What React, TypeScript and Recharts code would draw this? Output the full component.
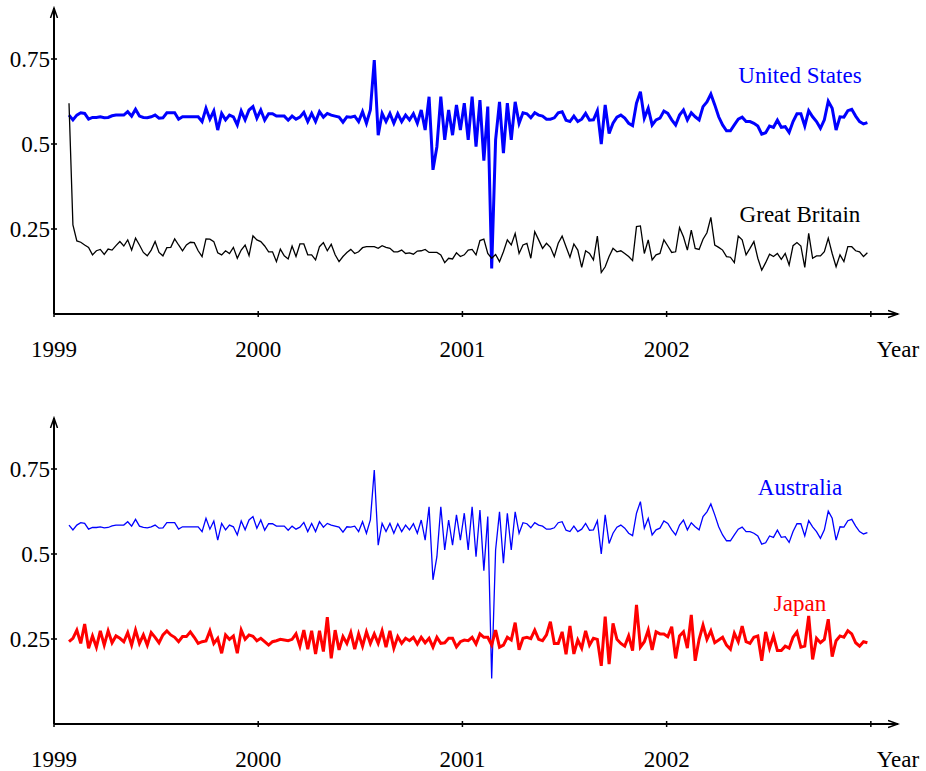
import { LineChart, Line, XAxis, YAxis, ReferenceDot } from 'recharts'

const FONT = '"Liberation Serif", "DejaVu Serif", serif'

// weekly observations, first one at the end of January 1999
const firstWeek = 1999.0735
const weekStep = 7 / 365.25
const yearTicks = [1999, 2000, 2001, 2002, 2003]
const valueTicks = [0.25, 0.5, 0.75]

const unitedStates = [
  0.585, 0.571, 0.585, 0.592, 0.590, 0.573, 0.578, 0.578, 0.580, 0.577,
  0.578, 0.583, 0.585, 0.585, 0.585, 0.595, 0.582, 0.602, 0.582, 0.578,
  0.577, 0.580, 0.585, 0.576, 0.577, 0.592, 0.592, 0.592, 0.573, 0.580,
  0.580, 0.580, 0.580, 0.580, 0.566, 0.605, 0.573, 0.597, 0.541, 0.590,
  0.571, 0.585, 0.580, 0.556, 0.597, 0.571, 0.600, 0.610, 0.576, 0.600,
  0.570, 0.589, 0.589, 0.582, 0.582, 0.582, 0.570, 0.582, 0.573, 0.579,
  0.593, 0.566, 0.590, 0.566, 0.595, 0.579, 0.590, 0.585, 0.582, 0.579,
  0.564, 0.580, 0.579, 0.582, 0.566, 0.595, 0.561, 0.600, 0.747, 0.526,
  0.590, 0.566, 0.590, 0.561, 0.589, 0.566, 0.585, 0.571, 0.589, 0.561,
  0.600, 0.541, 0.639, 0.424, 0.492, 0.639, 0.512, 0.600, 0.526, 0.615,
  0.541, 0.620, 0.512, 0.639, 0.492, 0.629, 0.451, 0.610, 0.134, 0.512,
  0.624, 0.473, 0.620, 0.512, 0.624, 0.561, 0.592, 0.589, 0.577, 0.592,
  0.585, 0.582, 0.573, 0.573, 0.577, 0.592, 0.595, 0.570, 0.566, 0.582,
  0.566, 0.573, 0.590, 0.570, 0.571, 0.598, 0.500, 0.615, 0.531, 0.561,
  0.579, 0.585, 0.576, 0.561, 0.554, 0.620, 0.654, 0.576, 0.605, 0.556,
  0.571, 0.576, 0.597, 0.590, 0.571, 0.556, 0.585, 0.600, 0.571, 0.592,
  0.580, 0.571, 0.610, 0.624, 0.647, 0.615, 0.580, 0.556, 0.539, 0.539,
  0.556, 0.573, 0.579, 0.566, 0.566, 0.561, 0.553, 0.529, 0.533, 0.553,
  0.549, 0.570, 0.549, 0.551, 0.534, 0.566, 0.589, 0.589, 0.553, 0.598,
  0.580, 0.566, 0.546, 0.571, 0.626, 0.605, 0.541, 0.580, 0.579, 0.598,
  0.602, 0.582, 0.566, 0.559, 0.563,
]

const greatBritain = [
  0.620, 0.262, 0.215, 0.211, 0.203, 0.196, 0.174, 0.186, 0.190, 0.175,
  0.191, 0.188, 0.201, 0.213, 0.200, 0.218, 0.188, 0.223, 0.203, 0.181,
  0.171, 0.188, 0.213, 0.181, 0.171, 0.195, 0.196, 0.221, 0.203, 0.186,
  0.203, 0.211, 0.210, 0.186, 0.169, 0.221, 0.220, 0.213, 0.180, 0.174,
  0.186, 0.178, 0.196, 0.164, 0.188, 0.203, 0.172, 0.230, 0.218, 0.213,
  0.200, 0.183, 0.183, 0.154, 0.191, 0.171, 0.162, 0.200, 0.169, 0.206,
  0.206, 0.174, 0.174, 0.159, 0.198, 0.210, 0.186, 0.205, 0.174, 0.154,
  0.169, 0.181, 0.190, 0.178, 0.183, 0.195, 0.198, 0.198, 0.198, 0.193,
  0.201, 0.196, 0.193, 0.183, 0.183, 0.188, 0.178, 0.180, 0.176, 0.185,
  0.186, 0.190, 0.181, 0.181, 0.181, 0.174, 0.151, 0.164, 0.162, 0.180,
  0.169, 0.174, 0.188, 0.190, 0.174, 0.216, 0.220, 0.178, 0.164, 0.175,
  0.154, 0.183, 0.218, 0.203, 0.237, 0.178, 0.203, 0.208, 0.164, 0.242,
  0.218, 0.193, 0.208, 0.196, 0.169, 0.208, 0.229, 0.198, 0.167, 0.206,
  0.188, 0.137, 0.186, 0.178, 0.159, 0.229, 0.122, 0.139, 0.169, 0.193,
  0.183, 0.186, 0.178, 0.169, 0.157, 0.257, 0.259, 0.178, 0.218, 0.159,
  0.174, 0.178, 0.218, 0.200, 0.181, 0.183, 0.254, 0.227, 0.188, 0.247,
  0.193, 0.190, 0.220, 0.239, 0.284, 0.203, 0.196, 0.188, 0.169, 0.167,
  0.151, 0.229, 0.218, 0.174, 0.193, 0.213, 0.164, 0.129, 0.151, 0.176,
  0.169, 0.178, 0.161, 0.178, 0.144, 0.201, 0.210, 0.200, 0.137, 0.237,
  0.164, 0.171, 0.171, 0.183, 0.223, 0.178, 0.139, 0.174, 0.154, 0.198,
  0.198, 0.186, 0.183, 0.169, 0.180,
]

// the lower panel plots the very same values for Australia
const australia = unitedStates

const japan = [
  0.242, 0.252, 0.276, 0.237, 0.294, 0.223, 0.259, 0.226, 0.274, 0.232,
  0.274, 0.239, 0.259, 0.252, 0.242, 0.269, 0.232, 0.276, 0.237, 0.262,
  0.232, 0.269, 0.255, 0.239, 0.262, 0.274, 0.262, 0.255, 0.242, 0.257,
  0.257, 0.271, 0.255, 0.237, 0.242, 0.244, 0.274, 0.237, 0.252, 0.208,
  0.262, 0.249, 0.259, 0.208, 0.276, 0.249, 0.262, 0.258, 0.245, 0.252,
  0.242, 0.232, 0.242, 0.245, 0.249, 0.247, 0.245, 0.249, 0.265, 0.229,
  0.276, 0.220, 0.274, 0.206, 0.274, 0.213, 0.314, 0.193, 0.276, 0.218,
  0.257, 0.237, 0.269, 0.220, 0.265, 0.229, 0.271, 0.237, 0.265, 0.237,
  0.274, 0.226, 0.274, 0.223, 0.257, 0.237, 0.252, 0.245, 0.255, 0.235,
  0.255, 0.239, 0.252, 0.226, 0.255, 0.237, 0.239, 0.252, 0.252, 0.227,
  0.242, 0.247, 0.245, 0.255, 0.235, 0.265, 0.255, 0.255, 0.232, 0.276,
  0.226, 0.232, 0.255, 0.247, 0.298, 0.218, 0.252, 0.255, 0.251, 0.276,
  0.249, 0.245, 0.262, 0.301, 0.237, 0.237, 0.271, 0.205, 0.288, 0.206,
  0.247, 0.223, 0.274, 0.232, 0.252, 0.249, 0.171, 0.316, 0.176, 0.296,
  0.249, 0.237, 0.229, 0.259, 0.216, 0.350, 0.226, 0.242, 0.276, 0.218,
  0.271, 0.265, 0.265, 0.257, 0.286, 0.193, 0.259, 0.271, 0.223, 0.321,
  0.186, 0.249, 0.291, 0.249, 0.274, 0.239, 0.247, 0.255, 0.232, 0.220,
  0.267, 0.242, 0.288, 0.242, 0.237, 0.255, 0.259, 0.186, 0.271, 0.223,
  0.259, 0.216, 0.216, 0.229, 0.223, 0.255, 0.271, 0.226, 0.229, 0.318,
  0.190, 0.252, 0.239, 0.249, 0.308, 0.198, 0.245, 0.259, 0.255, 0.274,
  0.265, 0.239, 0.229, 0.242, 0.239,
]

const topData = unitedStates.map((v, i) => ({
  t: firstWeek + i * weekStep,
  us: v,
  gb: greatBritain[i],
}))

const bottomData = australia.map((v, i) => ({
  t: firstWeek + i * weekStep,
  au: v,
  jp: japan[i],
}))

type Series = { key: string; color: string; width: number }
type Note = { text: string; color: string; x: number; y: number }

const YearLabel = (props: any) => {
  const { x, y, width } = props.viewBox
  return (
    <text x={x + width} y={y + 43} textAnchor="middle" fill="#000" fontSize={23} fontFamily={FONT}>
      Year
    </text>
  )
}

function Panel({ data, height, top, axisHeight, series, notes }: {
  data: any[]
  height: number
  top: number
  axisHeight: number
  series: Series[]
  notes: Note[]
}) {
  return (
    <LineChart width={926} height={height} data={data} margin={{ top, right: 28, bottom: 0, left: 0 }}>
      <XAxis
        dataKey="t"
        type="number"
        domain={[1999, 2003.133]}
        allowDataOverflow
        ticks={yearTicks}
        height={axisHeight}
        tickFormatter={(v) => (v === 2003 ? '' : String(v))}
        axisLine={{ stroke: '#000', strokeWidth: 2, markerEnd: 'url(#arrowHead)' }}
        tickLine={{ stroke: '#000', strokeWidth: 1.5, transform: 'translate(0,-3)' }}
        tickSize={6}
        tickMargin={21}
        tick={{ fill: '#000', fontSize: 23, fontFamily: FONT }}
        label={YearLabel}
      />
      <YAxis
        type="number"
        domain={[0, 0.9]}
        allowDataOverflow
        ticks={valueTicks}
        width={54}
        axisLine={{ stroke: '#000', strokeWidth: 2, markerStart: 'url(#arrowHead)' }}
        tickLine={{ stroke: '#000', strokeWidth: 1.5, transform: 'translate(3,0)' }}
        tickSize={6}
        tickMargin={-2}
        tick={{ fill: '#000', fontSize: 23, fontFamily: FONT }}
      />
      {series.map((s) => (
        <Line
          key={s.key}
          type="linear"
          dataKey={s.key}
          stroke={s.color}
          strokeWidth={s.width}
          dot={false}
          activeDot={false}
          isAnimationActive={false}
        />
      ))}
      {notes.map((n) => (
        <ReferenceDot
          key={n.text}
          x={n.x}
          y={n.y}
          r={1}
          shape={(p: any) => (
            <text x={p.cx} y={p.cy} textAnchor="middle" fill={n.color} fontSize={23} fontFamily={FONT}>
              {n.text}
            </text>
          )}
        />
      ))}
    </LineChart>
  )
}

export default function App() {
  return (
    <div style={{ position: 'absolute', left: 0, top: 0, width: 926, height: 771, background: '#fff' }}>
      <svg width={0} height={0} style={{ position: 'absolute' }}>
        <defs>
          <marker
            id="arrowHead"
            viewBox="0 -5 12 10"
            refX={10}
            refY={0}
            markerWidth={12}
            markerHeight={10}
            markerUnits="userSpaceOnUse"
            orient="auto-start-reverse"
          >
            <path d="M0,-3.5L10,0L0,3.5" fill="none" stroke="#000" strokeWidth={1.5} />
          </marker>
        </defs>
      </svg>
      <div style={{ position: 'absolute', left: 0, top: 0 }}>
        <Panel
          data={topData}
          height={385}
          top={8}
          axisHeight={71}
          series={[
            { key: 'us', color: '#0000ff', width: 3 },
            { key: 'gb', color: '#000000', width: 1.3 },
          ]}
          notes={[
            { text: 'United States', color: '#0000ff', x: 2002.653, y: 0.679 },
            { text: 'Great Britain', color: '#000000', x: 2002.653, y: 0.271 },
          ]}
        />
      </div>
      <div style={{ position: 'absolute', left: 0, top: 385 }}>
        <Panel
          data={bottomData}
          height={386}
          top={33}
          axisHeight={47}
          series={[
            { key: 'au', color: '#0000ff', width: 1.3 },
            { key: 'jp', color: '#ff0000', width: 3 },
          ]}
          notes={[
            { text: 'Australia', color: '#0000ff', x: 2002.653, y: 0.674 },
            { text: 'Japan', color: '#ff0000', x: 2002.653, y: 0.332 },
          ]}
        />
      </div>
    </div>
  )
}
